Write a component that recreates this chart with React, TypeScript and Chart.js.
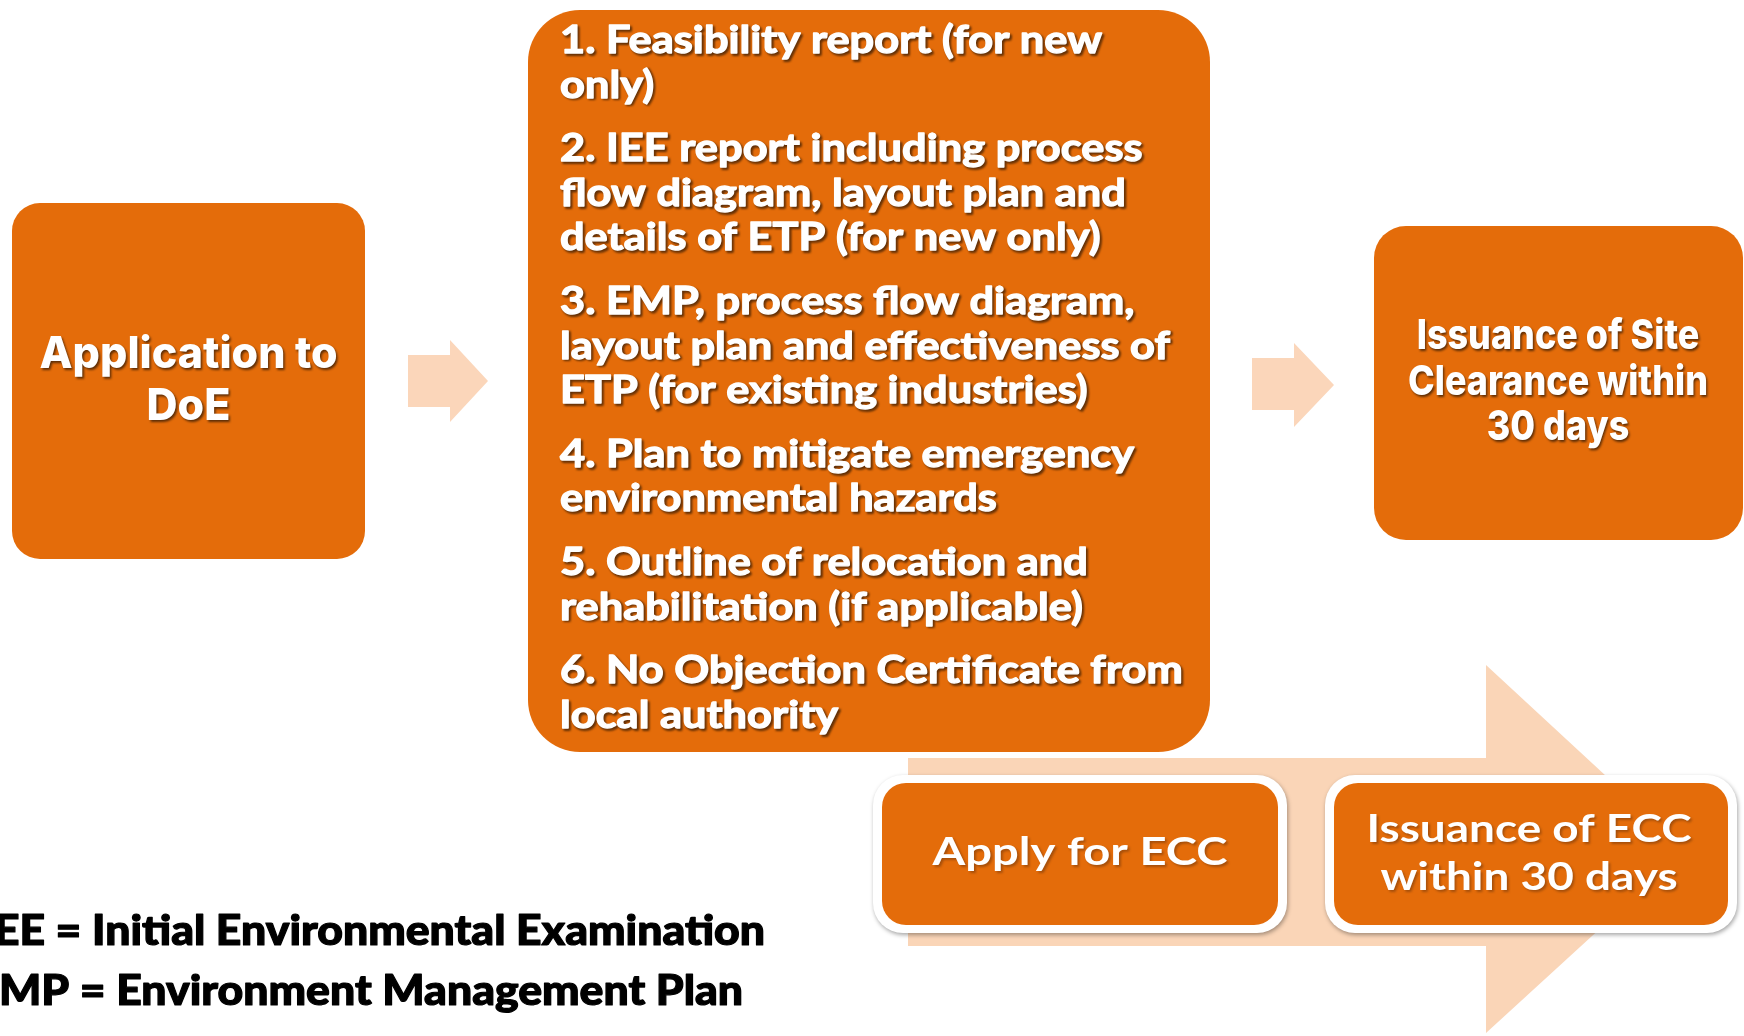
import React, { useEffect, useRef } from "react";
import { Chart, registerables } from "chart.js";

Chart.register(...registerables);

// ---- content (text) ----
const startLabel = ["Application to", "DoE"];
const requirementItems: string[][] = [
  ["1. Feasibility report (for new", "only)"],
  ["2. IEE report including process", "flow diagram, layout plan and", "details of ETP (for new only)"],
  ["3. EMP, process flow diagram,", "layout plan and effectiveness of", "ETP (for existing industries)"],
  ["4. Plan to mitigate emergency", "environmental hazards"],
  ["5. Outline of relocation and", "rehabilitation (if applicable)"],
  ["6. No Objection Certificate from", "local authority"],
];
const siteClearanceLabel = ["Issuance of Site", "Clearance within", "30 days"];
const eccSteps: string[][] = [["Apply for ECC"], ["Issuance of ECC", "within 30 days"]];
const footnotes = ["IEE = Initial Environmental Examination", "EMP = Environment Management Plan"];

const W = 1744;
const H = 1036;

const ORANGE = "#E46C0A";
const PEACH = "#FAD5B7";

type Ctx = CanvasRenderingContext2D;

function rr(ctx: Ctx, x0: number, y0: number, x1: number, y1: number, r: number) {
  ctx.beginPath();
  ctx.moveTo(x0 + r, y0);
  ctx.lineTo(x1 - r, y0);
  ctx.arcTo(x1, y0, x1, y0 + r, r);
  ctx.lineTo(x1, y1 - r);
  ctx.arcTo(x1, y1, x1 - r, y1, r);
  ctx.lineTo(x0 + r, y1);
  ctx.arcTo(x0, y1, x0, y1 - r, r);
  ctx.lineTo(x0, y0 + r);
  ctx.arcTo(x0, y0, x0 + r, y0, r);
  ctx.closePath();
}

const diagramPlugin = {
  id: "diagram",
  afterDraw(chart: any) {
    const ctx: Ctx = chart.ctx;
    const sx = chart.scales.x;
    const sy = chart.scales.y;
    const X = (v: number) => sx.getPixelForValue(v);
    const Y = (v: number) => sy.getPixelForValue(v);

    const box = (x0: number, y0: number, x1: number, y1: number, r: number, fill: string) => {
      ctx.save();
      rr(ctx, X(x0), Y(y0), X(x1), Y(y1), r);
      ctx.fillStyle = fill;
      ctx.fill();
      ctx.restore();
    };

    const arrow = (bx0: number, by0: number, by1: number, hx: number, hy0: number, hy1: number, tx: number, ty: number, fill: string) => {
      ctx.save();
      ctx.beginPath();
      ctx.moveTo(X(bx0), Y(by0));
      ctx.lineTo(X(hx), Y(by0));
      ctx.lineTo(X(hx), Y(hy0));
      ctx.lineTo(X(tx), Y(ty));
      ctx.lineTo(X(hx), Y(hy1));
      ctx.lineTo(X(hx), Y(by1));
      ctx.lineTo(X(bx0), Y(by1));
      ctx.closePath();
      ctx.fillStyle = fill;
      ctx.fill();
      ctx.restore();
    };

    const textBlock = (
      lines: string[],
      opts: {
        font: string;
        anchor: number;
        align: "left" | "center" | "right";
        baselines: number[];
        refLine: string;
        refWidth: number;
        color: string;
        shadow?: string;
        stroke?: number;
      }
    ) => {
      ctx.save();
      ctx.font = opts.font;
      const m = ctx.measureText(opts.refLine).width;
      const k = opts.refWidth / m;
      ctx.fillStyle = opts.color;
      ctx.strokeStyle = opts.color;
      ctx.lineJoin = "round";
      ctx.textAlign = opts.align;
      ctx.textBaseline = "alphabetic";
      lines.forEach((ln, i) => {
        ctx.save();
        ctx.translate(X(opts.anchor), Y(opts.baselines[i]));
        ctx.scale(k, 1);
        if (opts.shadow) {
          ctx.save();
          ctx.fillStyle = opts.shadow;
          ctx.strokeStyle = opts.shadow;
          ctx.filter = "blur(1px)";
          ctx.translate(1.6, 1.8);
          if (opts.stroke) {
            ctx.lineWidth = opts.stroke;
            ctx.strokeText(ln, 0, 0);
          }
          ctx.fillText(ln, 0, 0);
          ctx.restore();
        }
        if (opts.stroke) {
          ctx.lineWidth = opts.stroke;
          ctx.strokeText(ln, 0, 0);
        }
        ctx.fillText(ln, 0, 0);
        ctx.restore();
      });
      ctx.restore();
    };

    // background
    ctx.save();
    ctx.fillStyle = "#ffffff";
    ctx.fillRect(0, 0, chart.width, chart.height);
    ctx.restore();

    // big background arrow
    arrow(908, 758, 946, 1486, 665, 1033, 1686, 850, PEACH);

    // small arrows
    arrow(408, 355, 407, 450, 340, 422, 488, 381, "#FBD6BA");
    arrow(1252, 358, 410, 1294, 343, 427, 1334, 385, "#FBD6BA");

    // main boxes
    box(12, 203, 365, 559, 28, ORANGE);
    box(528, 10, 1210, 752, 52, ORANGE);
    box(1374, 226, 1743, 540, 32, ORANGE);

    // ECC boxes with white border
    const eccBoxes = [
      [873, 775, 1287, 933],
      [1325, 775, 1737, 933],
    ];
    eccBoxes.forEach(([x0, y0, x1, y1]) => {
      ctx.save();
      ctx.shadowColor = "rgba(0,0,0,0.35)";
      ctx.shadowBlur = 4;
      ctx.shadowOffsetX = 1;
      ctx.shadowOffsetY = 2;
      rr(ctx, X(x0), Y(y0), X(x1), Y(y1), 30);
      ctx.fillStyle = "#ffffff";
      ctx.fill();
      ctx.restore();
      box(x0 + 9, y0 + 8, x1 - 9, y1 - 8, 24, ORANGE);
    });

    const SH = "rgba(60,30,5,0.8)";

    // Application to DoE
    textBlock(startLabel, {
      font: "800 44px Inter, 'Open Sans', sans-serif",
      anchor: 188.5,
      align: "center",
      baselines: [368, 420],
      refLine: startLabel[0],
      refWidth: 298,
      color: "#ffffff",
      shadow: SH,
    });

    // Requirements list
    const baselines: number[] = [];
    let y = 53;
    requirementItems.forEach((item, pi) => {
      if (pi > 0) y += 19;
      item.forEach(() => {
        baselines.push(y);
        y += 44.6;
      });
    });
    const flat = requirementItems.flat();
    textBlock(flat, {
      font: "bold 38px Lato, 'Open Sans', sans-serif",
      anchor: 560,
      align: "left",
      baselines,
      refLine: "layout plan and effectiveness of",
      refWidth: 610,
      color: "#ffffff",
      shadow: SH,
      stroke: 1.3,
    });

    // Site clearance
    textBlock(siteClearanceLabel, {
      font: "800 41px Inter, 'Open Sans', sans-serif",
      anchor: 1558,
      align: "center",
      baselines: [349, 395, 440],
      refLine: siteClearanceLabel[1],
      refWidth: 300,
      color: "#ffffff",
      shadow: SH,
    });

    // ECC texts
    textBlock(eccSteps[0], {
      font: "bold 39px Lato, 'Open Sans', sans-serif",
      anchor: 1080,
      align: "center",
      baselines: [865],
      refLine: eccSteps[0][0],
      refWidth: 295,
      color: "#ffffff",
      shadow: "rgba(90,45,10,0.45)",
    });
    textBlock(eccSteps[1], {
      font: "bold 39px Lato, 'Open Sans', sans-serif",
      anchor: 1529,
      align: "center",
      baselines: [842, 890],
      refLine: eccSteps[1][0],
      refWidth: 325,
      color: "#ffffff",
      shadow: "rgba(90,45,10,0.45)",
    });

    // Footnotes (right-anchored; left edge runs off the page)
    ctx.save();
    ctx.font = "900 42px Lato, sans-serif";
    const kf = 673 / ctx.measureText("Initial Environmental Examination").width;
    ctx.restore();
    const ends = [765, 743];
    const fBase = [945, 1005];
    footnotes.forEach((ln, i) => {
      ctx.save();
      ctx.font = "900 42px Lato, sans-serif";
      ctx.fillStyle = "#000000";
      ctx.strokeStyle = "#000000";
      ctx.lineWidth = 1.2;
      ctx.lineJoin = "round";
      ctx.textAlign = "right";
      ctx.translate(X(ends[i]), Y(fBase[i]));
      ctx.scale(kf, 1);
      ctx.strokeText(ln, 0, 0);
      ctx.fillText(ln, 0, 0);
      ctx.restore();
    });
  },
};

export default function App() {
  const ref = useRef<HTMLCanvasElement | null>(null);
  useEffect(() => {
    if (!ref.current) return;
    const chart = new Chart(ref.current, {
      type: "scatter",
      data: { datasets: [{ data: [], pointRadius: 0 }] },
      options: {
        animation: false,
        responsive: false,
        maintainAspectRatio: false,
        events: [],
        layout: { padding: 0 },
        plugins: { legend: { display: false }, tooltip: { enabled: false } },
        scales: {
          x: { type: "linear", min: 0, max: W, display: false },
          y: { type: "linear", min: 0, max: H, reverse: true, display: false },
        },
      },
      plugins: [diagramPlugin],
    } as any);
    return () => chart.destroy();
  }, []);
  return (
    <div style={{ position: "fixed", left: 0, top: 0, width: W, height: H, background: "#fff" }}>
      <canvas ref={ref} width={W} height={H} style={{ display: "block", width: W, height: H }} />
    </div>
  );
}
